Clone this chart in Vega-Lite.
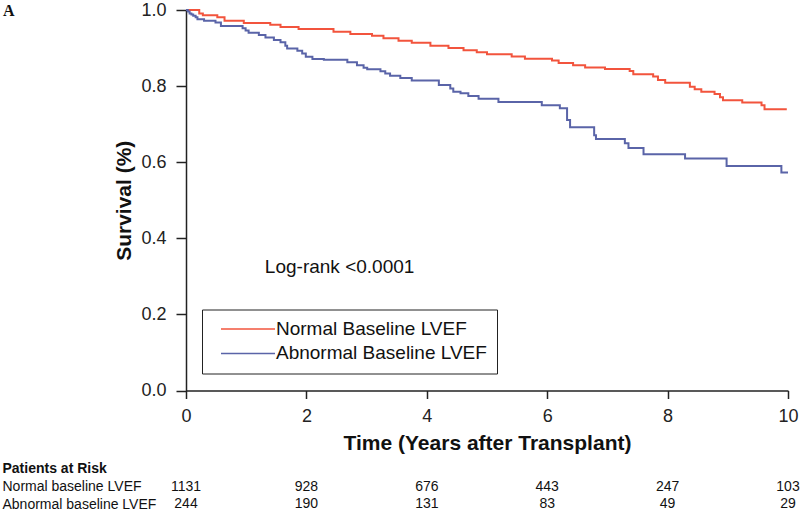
{
  "$schema": "https://vega.github.io/schema/vega-lite/v6.json",
  "background": "white",
  "padding": {"left": 2, "top": 1, "right": 0, "bottom": 0},
  "config": {"view": {"stroke": null}, "font": "Liberation Sans"},
  "spacing": 6,
  "vconcat": [
    {
      "width": 602,
      "height": 380.5,
      "layer": [
        {
          "data": {
            "values": [
              {"group": "Normal Baseline LVEF", "t": 0, "s": 1.0},
              {"group": "Normal Baseline LVEF", "t": 0.22, "s": 0.991},
              {"group": "Normal Baseline LVEF", "t": 0.28, "s": 0.986},
              {"group": "Normal Baseline LVEF", "t": 0.52, "s": 0.981},
              {"group": "Normal Baseline LVEF", "t": 0.64, "s": 0.972},
              {"group": "Normal Baseline LVEF", "t": 0.96, "s": 0.966},
              {"group": "Normal Baseline LVEF", "t": 1.40, "s": 0.961},
              {"group": "Normal Baseline LVEF", "t": 1.57, "s": 0.955},
              {"group": "Normal Baseline LVEF", "t": 1.87, "s": 0.950},
              {"group": "Normal Baseline LVEF", "t": 2.45, "s": 0.943},
              {"group": "Normal Baseline LVEF", "t": 2.73, "s": 0.937},
              {"group": "Normal Baseline LVEF", "t": 3.09, "s": 0.932},
              {"group": "Normal Baseline LVEF", "t": 3.28, "s": 0.926},
              {"group": "Normal Baseline LVEF", "t": 3.53, "s": 0.919},
              {"group": "Normal Baseline LVEF", "t": 3.75, "s": 0.914},
              {"group": "Normal Baseline LVEF", "t": 4.06, "s": 0.906},
              {"group": "Normal Baseline LVEF", "t": 4.36, "s": 0.900},
              {"group": "Normal Baseline LVEF", "t": 4.61, "s": 0.894},
              {"group": "Normal Baseline LVEF", "t": 4.83, "s": 0.889},
              {"group": "Normal Baseline LVEF", "t": 5.00, "s": 0.884},
              {"group": "Normal Baseline LVEF", "t": 5.41, "s": 0.878},
              {"group": "Normal Baseline LVEF", "t": 5.63, "s": 0.872},
              {"group": "Normal Baseline LVEF", "t": 6.08, "s": 0.867},
              {"group": "Normal Baseline LVEF", "t": 6.19, "s": 0.861},
              {"group": "Normal Baseline LVEF", "t": 6.43, "s": 0.855},
              {"group": "Normal Baseline LVEF", "t": 6.63, "s": 0.849},
              {"group": "Normal Baseline LVEF", "t": 6.96, "s": 0.845},
              {"group": "Normal Baseline LVEF", "t": 7.37, "s": 0.840},
              {"group": "Normal Baseline LVEF", "t": 7.43, "s": 0.831},
              {"group": "Normal Baseline LVEF", "t": 7.76, "s": 0.825},
              {"group": "Normal Baseline LVEF", "t": 7.84, "s": 0.816},
              {"group": "Normal Baseline LVEF", "t": 7.96, "s": 0.809},
              {"group": "Normal Baseline LVEF", "t": 8.37, "s": 0.798},
              {"group": "Normal Baseline LVEF", "t": 8.45, "s": 0.792},
              {"group": "Normal Baseline LVEF", "t": 8.56, "s": 0.785},
              {"group": "Normal Baseline LVEF", "t": 8.78, "s": 0.779},
              {"group": "Normal Baseline LVEF", "t": 8.87, "s": 0.771},
              {"group": "Normal Baseline LVEF", "t": 8.92, "s": 0.763},
              {"group": "Normal Baseline LVEF", "t": 9.24, "s": 0.757},
              {"group": "Normal Baseline LVEF", "t": 9.56, "s": 0.750},
              {"group": "Normal Baseline LVEF", "t": 9.61, "s": 0.739},
              {"group": "Normal Baseline LVEF", "t": 9.98, "s": 0.739},
              {"group": "Abnormal Baseline LVEF", "t": 0, "s": 1.0},
              {"group": "Abnormal Baseline LVEF", "t": 0.03, "s": 0.996},
              {"group": "Abnormal Baseline LVEF", "t": 0.06, "s": 0.991},
              {"group": "Abnormal Baseline LVEF", "t": 0.09, "s": 0.988},
              {"group": "Abnormal Baseline LVEF", "t": 0.12, "s": 0.985},
              {"group": "Abnormal Baseline LVEF", "t": 0.16, "s": 0.981},
              {"group": "Abnormal Baseline LVEF", "t": 0.19, "s": 0.976},
              {"group": "Abnormal Baseline LVEF", "t": 0.30, "s": 0.972},
              {"group": "Abnormal Baseline LVEF", "t": 0.49, "s": 0.967},
              {"group": "Abnormal Baseline LVEF", "t": 0.58, "s": 0.958},
              {"group": "Abnormal Baseline LVEF", "t": 0.94, "s": 0.952},
              {"group": "Abnormal Baseline LVEF", "t": 0.99, "s": 0.946},
              {"group": "Abnormal Baseline LVEF", "t": 1.04, "s": 0.940},
              {"group": "Abnormal Baseline LVEF", "t": 1.21, "s": 0.934},
              {"group": "Abnormal Baseline LVEF", "t": 1.32, "s": 0.928},
              {"group": "Abnormal Baseline LVEF", "t": 1.46, "s": 0.921},
              {"group": "Abnormal Baseline LVEF", "t": 1.57, "s": 0.915},
              {"group": "Abnormal Baseline LVEF", "t": 1.65, "s": 0.906},
              {"group": "Abnormal Baseline LVEF", "t": 1.68, "s": 0.899},
              {"group": "Abnormal Baseline LVEF", "t": 1.85, "s": 0.893},
              {"group": "Abnormal Baseline LVEF", "t": 1.93, "s": 0.886},
              {"group": "Abnormal Baseline LVEF", "t": 1.99, "s": 0.877},
              {"group": "Abnormal Baseline LVEF", "t": 2.10, "s": 0.871},
              {"group": "Abnormal Baseline LVEF", "t": 2.29, "s": 0.869},
              {"group": "Abnormal Baseline LVEF", "t": 2.68, "s": 0.863},
              {"group": "Abnormal Baseline LVEF", "t": 2.84, "s": 0.855},
              {"group": "Abnormal Baseline LVEF", "t": 2.95, "s": 0.848},
              {"group": "Abnormal Baseline LVEF", "t": 3.01, "s": 0.844},
              {"group": "Abnormal Baseline LVEF", "t": 3.23, "s": 0.839},
              {"group": "Abnormal Baseline LVEF", "t": 3.31, "s": 0.833},
              {"group": "Abnormal Baseline LVEF", "t": 3.39, "s": 0.827},
              {"group": "Abnormal Baseline LVEF", "t": 3.56, "s": 0.821},
              {"group": "Abnormal Baseline LVEF", "t": 3.75, "s": 0.815},
              {"group": "Abnormal Baseline LVEF", "t": 4.20, "s": 0.803},
              {"group": "Abnormal Baseline LVEF", "t": 4.39, "s": 0.794},
              {"group": "Abnormal Baseline LVEF", "t": 4.44, "s": 0.785},
              {"group": "Abnormal Baseline LVEF", "t": 4.56, "s": 0.781},
              {"group": "Abnormal Baseline LVEF", "t": 4.69, "s": 0.774},
              {"group": "Abnormal Baseline LVEF", "t": 4.86, "s": 0.767},
              {"group": "Abnormal Baseline LVEF", "t": 5.19, "s": 0.758},
              {"group": "Abnormal Baseline LVEF", "t": 5.91, "s": 0.750},
              {"group": "Abnormal Baseline LVEF", "t": 6.21, "s": 0.742},
              {"group": "Abnormal Baseline LVEF", "t": 6.33, "s": 0.711},
              {"group": "Abnormal Baseline LVEF", "t": 6.38, "s": 0.692},
              {"group": "Abnormal Baseline LVEF", "t": 6.78, "s": 0.671},
              {"group": "Abnormal Baseline LVEF", "t": 6.81, "s": 0.661},
              {"group": "Abnormal Baseline LVEF", "t": 7.29, "s": 0.650},
              {"group": "Abnormal Baseline LVEF", "t": 7.35, "s": 0.637},
              {"group": "Abnormal Baseline LVEF", "t": 7.60, "s": 0.621},
              {"group": "Abnormal Baseline LVEF", "t": 8.29, "s": 0.610},
              {"group": "Abnormal Baseline LVEF", "t": 8.98, "s": 0.590},
              {"group": "Abnormal Baseline LVEF", "t": 9.89, "s": 0.573},
              {"group": "Abnormal Baseline LVEF", "t": 10.0, "s": 0.573}
            ]
          },
          "mark": {"type": "line", "interpolate": "step-after", "strokeWidth": 2},
          "encoding": {
            "x": {
              "field": "t", "type": "quantitative",
              "scale": {"domain": [0, 10], "nice": false, "zero": false},
              "axis": {
                "values": [0, 2, 4, 6, 8, 10], "format": "d", "grid": false,
                "tickSize": 8, "tickWidth": 1.5, "tickColor": "#222",
                "domainColor": "#222", "domainWidth": 1.5,
                "labelFontSize": 18, "labelColor": "#222", "labelPadding": 9, "labelFlush": false,
                "title": "Time (Years after Transplant)", "titleFontSize": 21, "titleFontWeight": "bold",
                "titleColor": "#111", "titlePadding": 7
              }
            },
            "y": {
              "field": "s", "type": "quantitative",
              "scale": {"domain": [0, 1], "nice": false},
              "axis": {
                "values": [0, 0.2, 0.4, 0.6, 0.8, 1.0], "format": ".1f", "grid": false,
                "tickSize": 10, "tickWidth": 1.5, "tickColor": "#222",
                "domainColor": "#222", "domainWidth": 1.5,
                "labelFontSize": 18, "labelColor": "#222", "labelPadding": 10, "labelFlush": false,
                "title": "Survival (%)", "titleFontSize": 21, "titleFontWeight": "bold",
                "titleColor": "#111", "titlePadding": 6
              }
            },
            "color": {
              "field": "group", "type": "nominal",
              "scale": {"domain": ["Normal Baseline LVEF", "Abnormal Baseline LVEF"], "range": ["#F2543D", "#5A64A8"]},
              "legend": {
                "title": null, "orient": "none", "legendX": 16, "legendY": 299.5,
                "strokeColor": "#222", "fillColor": "white", "padding": 10,
                "symbolType": "M-0.1,0H10.7", "symbolSize": 100, "symbolStrokeWidth": 1.5,
                "labelFontSize": 19, "labelColor": "#111", "labelOffset": 45,
                "labelExpr": "datum.label + '\u00a0\u00a0'",
                "rowPadding": 4.4, "labelLimit": 400
              }
            }
          }
        },
        {
          "data": {"values": [{}]},
          "mark": {"type": "text", "align": "left", "baseline": "middle", "fontSize": 19, "color": "#111"},
          "encoding": {"x": {"datum": 1.31}, "y": {"datum": 0.325}, "text": {"value": "Log-rank <0.0001"}}
        },
        {
          "data": {"values": [{}]},
          "mark": {"type": "text", "align": "left", "baseline": "middle", "fontSize": 16, "fontWeight": "bold", "font": "Liberation Serif", "color": "#111"},
          "encoding": {"x": {"datum": -3.04}, "y": {"datum": 0.997}, "text": {"value": "A"}}
        }
      ]
    },
    {
      "width": 602,
      "height": 53,
      "data": {
        "values": [
          {"row": "Normal baseline LVEF", "t": 0, "n": 1131},
          {"row": "Normal baseline LVEF", "t": 2, "n": 928},
          {"row": "Normal baseline LVEF", "t": 4, "n": 676},
          {"row": "Normal baseline LVEF", "t": 6, "n": 443},
          {"row": "Normal baseline LVEF", "t": 8, "n": 247},
          {"row": "Normal baseline LVEF", "t": 10, "n": 103},
          {"row": "Abnormal baseline LVEF", "t": 0, "n": 244},
          {"row": "Abnormal baseline LVEF", "t": 2, "n": 190},
          {"row": "Abnormal baseline LVEF", "t": 4, "n": 131},
          {"row": "Abnormal baseline LVEF", "t": 6, "n": 83},
          {"row": "Abnormal baseline LVEF", "t": 8, "n": 49},
          {"row": "Abnormal baseline LVEF", "t": 10, "n": 29}
        ]
      },
      "mark": {"type": "text", "fontSize": 14, "font": "Liberation Sans", "color": "#111"},
      "encoding": {
        "x": {"field": "t", "type": "quantitative", "scale": {"domain": [0, 10], "nice": false, "zero": false}, "axis": null},
        "y": {
          "field": "row", "type": "nominal",
          "scale": {"domain": ["Patients at Risk", "Normal baseline LVEF", "Abnormal baseline LVEF"], "paddingInner": 0, "paddingOuter": 0},
          "axis": {
            "title": null, "ticks": false, "domain": false,
            "labelAlign": "left", "labelPadding": 184, "labelLimit": 400,
            "labelColor": "#111", "labelFont": "Liberation Sans",
            "labelFontSize": 14,
            "labelFontWeight": {"condition": {"test": "datum.value === 'Patients at Risk'", "value": "bold"}, "value": "normal"}
          }
        },
        "text": {"field": "n", "type": "quantitative"}
      }
    }
  ]
}
